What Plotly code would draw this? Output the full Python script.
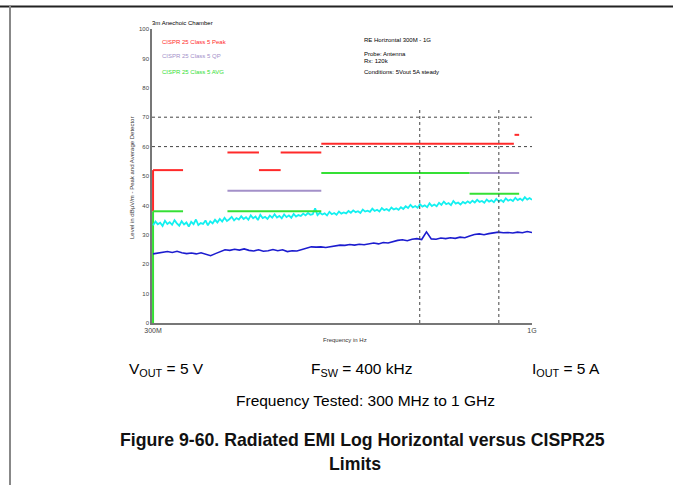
import numpy as np
import plotly.graph_objects as go

# ---------------- data ----------------
peak_values = [
    33.2, 34.5, 33.6, 34.1, 33.0, 34.8, 33.7, 34.3, 33.4, 35.0,
    33.9, 33.1, 34.6, 33.5, 34.2, 32.8, 34.4, 33.6, 35.2, 33.3,
    34.0, 33.7, 34.9, 33.2,
    34.6, 33.9, 35.1, 34.2, 35.4, 34.5, 35.8, 34.7, 35.3, 36.1,
    34.9, 35.7, 35.2,
    36.3, 35.4, 36.0, 35.1, 36.6, 35.6, 36.2, 35.0, 36.8, 35.7,
    36.1, 35.4, 36.5, 35.8, 37.0, 35.9, 36.4, 35.6, 36.9, 36.0,
    36.6, 35.8, 37.1, 36.2, 36.7,
    36.4, 37.2, 36.6, 37.4, 36.8, 37.0, 39.0, 36.7, 37.5, 36.9,
    37.3, 36.6, 37.8, 37.0, 37.4, 36.8, 37.9, 37.2, 37.6,
    37.3, 38.1, 37.5, 38.3, 37.7, 38.0, 37.4, 38.6, 37.9, 38.2,
    37.8, 38.9, 38.1, 38.5, 37.9, 39.1, 38.4, 38.8, 38.2, 39.3,
    38.6, 39.0, 38.5,
    39.4, 38.8, 39.7, 39.1, 40.2, 39.3, 39.8, 39.2, 40.4, 39.6,
    40.0, 39.4, 40.7, 39.8, 40.3, 39.7,
    40.9, 40.2, 41.3, 40.4, 40.8, 40.1, 41.5, 40.6, 41.0, 40.3,
    41.2, 40.7, 41.4,
    40.8, 41.6, 41.0, 41.9, 41.2, 41.5, 40.9, 42.0, 41.3, 41.7,
    41.1, 42.2, 41.4, 41.8, 41.2, 42.4, 41.6, 42.0, 41.5, 42.6,
    41.8, 42.3, 41.7, 42.8, 42.0, 42.5, 41.9,
]

avg_values = [
    23.5, 23.7, 23.9, 24.3, 24.0, 24.4, 23.9, 23.6, 23.8, 23.5,
    23.9, 23.4, 22.9, 23.6, 24.3, 24.9, 24.7, 25.1, 24.8, 25.2,
    24.7, 24.5, 24.9, 24.4, 24.6, 25.0, 24.6, 24.9, 24.3, 24.6,
    24.5, 25.0, 25.3, 25.9, 25.8, 25.9, 25.7, 26.0, 26.2, 26.5,
    26.4, 26.7, 26.5, 26.8, 26.6, 27.0, 27.2, 26.9, 27.4, 27.2,
    27.7, 28.1, 28.3, 28.0, 28.5, 28.7, 28.4, 31.0, 28.6, 28.5,
    28.9, 28.7, 29.0, 28.8, 29.2, 29.0, 29.6, 30.1, 30.3, 30.0,
    30.4, 30.6, 30.9, 30.7, 30.8, 30.6, 30.9, 30.7, 31.1, 30.8,
]

f_start_mhz = 300
f_stop_mhz = 1000

# limit segments: (f_start, f_stop, level)
peak_limit_segments = [(300, 330, 52), (380, 420, 58), (420, 450, 52),
                       (450, 512, 58), (512, 944, 61), (946, 960, 64)]
qp_limit_segments = [(380, 512, 45), (820, 960, 51)]
avg_limit_segments = [(300, 330, 38), (380, 512, 38), (512, 820, 51), (820, 960, 44)]

ref_levels = [70, 60]
marker_freqs = [700, 900]

y_ticks = [0, 10, 20, 30, 40, 50, 60, 70, 80, 90, 100]
x_tick_vals = [300, 1000]
x_tick_text = ["300M", "1G"]

RED = "#ff2a2a"
PURPLE = "#a390c9"
GREEN = "#35e035"
CYAN = "#14f0f0"
BLUE = "#1c1ccf"

# ---------------- figure ----------------
fig = go.Figure()

peak_f = np.geomspace(f_start_mhz, f_stop_mhz, len(peak_values))
avg_f = np.geomspace(f_start_mhz, f_stop_mhz, len(avg_values))


def seg_xy(segments):
    xs, ys = [], []
    for a, b, lvl in segments:
        xs += [a, b, None]
        ys += [lvl, lvl, None]
    return xs, ys


# vertical edges at the left boundary
fig.add_trace(go.Scatter(x=[300, 300], y=[0, 38], mode="lines",
                         line=dict(color=GREEN, width=2), hoverinfo="skip"))
fig.add_trace(go.Scatter(x=[300, 300], y=[38, 52], mode="lines",
                         line=dict(color=RED, width=2), hoverinfo="skip"))

fig.add_trace(go.Scatter(x=peak_f, y=peak_values, mode="lines",
                         line=dict(color=CYAN, width=1.8), name="Peak"))
fig.add_trace(go.Scatter(x=avg_f, y=avg_values, mode="lines",
                         line=dict(color=BLUE, width=1.6), name="Average"))

for segs, col in [(qp_limit_segments, PURPLE), (avg_limit_segments, GREEN),
                  (peak_limit_segments, RED)]:
    xs, ys = seg_xy(segs)
    fig.add_trace(go.Scatter(x=xs, y=ys, mode="lines",
                             line=dict(color=col, width=2), hoverinfo="skip"))

shapes = []
for lvl in ref_levels:
    shapes.append(dict(type="line", xref="paper", yref="y", x0=0, x1=1,
                       y0=lvl, y1=lvl, line=dict(color="#444", width=1, dash="dot")))
for fm in marker_freqs:
    shapes.append(dict(type="line", xref="x", yref="y", x0=fm, x1=fm,
                       y0=0, y1=73, line=dict(color="#444", width=1, dash="dot")))

# page frame
L, T, W, H = 152, 29, 380, 294


def px(xp):
    return (xp - L) / W


def py(yp):
    return (T + H - yp) / H


shapes.append(dict(type="line", xref="paper", yref="paper",
                   x0=px(0), x1=px(673), y0=py(6.5), y1=py(6.5),
                   line=dict(color="#222", width=2)))
shapes.append(dict(type="line", xref="paper", yref="paper",
                   x0=px(10), x1=px(10), y0=py(6), y1=py(485),
                   line=dict(color="#888", width=2)))

FONT = "Arial, Liberation Sans, sans-serif"
ann = []


def text(x, y, s, size, color="#000", xanchor="left", bold=False, angle=0):
    if bold:
        s = "<b>" + s + "</b>"
    ann.append(dict(x=px(x), y=py(y), xref="paper", yref="paper", text=s,
                    showarrow=False, xanchor=xanchor, yanchor="middle",
                    textangle=angle, font=dict(family=FONT, size=size, color=color)))


text(150, 23, "3m Anechoic Chamber", 6)
text(160, 42, "CISPR 25 Class 5 Peak", 6, RED)
text(160, 56, "CISPR 25 Class 5 QP", 6, PURPLE)
text(160, 72, "CISPR 25 Class 5 AVG", 6, GREEN)
text(362, 40, "RE Horizontal 300M - 1G", 6)
text(362, 54, "Probe: Antenna", 6)
text(362, 61, "Rx: 120k", 6)
text(362, 72, "Conditions: 5Vout 5A steady", 6)
text(132, 178, "Level in dBµV/m - Peak and Average Detector", 6, "#333",
     xanchor="center", angle=-90)
text(345, 340, "Frequency in Hz", 6, "#333", xanchor="center")

text(166, 369, "V<sub>OUT</sub> = 5 V", 15.5, xanchor="center")
text(361, 369, "F<sub>SW</sub> = 400 kHz", 15.5, xanchor="center")
text(566, 369, "I<sub>OUT</sub> = 5 A", 15.5, xanchor="center")
text(365, 400, "Frequency Tested: 300 MHz to 1 GHz", 15.5, xanchor="center")
text(362, 440, "Figure 9-60. Radiated EMI Log Horizontal versus CISPR25", 17.7,
     "#111", xanchor="center", bold=True)
text(355, 464, "Limits", 17.7, "#111", xanchor="center", bold=True)

fig.update_layout(
    width=673, height=485,
    margin=dict(l=L, r=673 - L - W, t=T, b=485 - T - H),
    paper_bgcolor="white", plot_bgcolor="white",
    showlegend=False,
    shapes=shapes, annotations=ann,
    font=dict(family=FONT, size=7, color="#444"),
    xaxis=dict(type="log", range=[np.log10(299), np.log10(1000)],
               showgrid=False, zeroline=False, showline=True,
               linecolor="#777", linewidth=1.5,
               tickvals=x_tick_vals, ticktext=x_tick_text,
               tickfont=dict(size=7, color="#444"), ticks=""),
    yaxis=dict(range=[0, 100], showgrid=False, zeroline=False, showline=True,
               linecolor="#777", linewidth=1.5, tickvals=y_ticks,
               tickfont=dict(size=6, color="#444"), ticks=""),
)

fig.write_html("out.html", config={"displayModeBar": False},
               post_script="document.body.style.margin='0';"
                           "document.body.style.overflow='hidden';")
